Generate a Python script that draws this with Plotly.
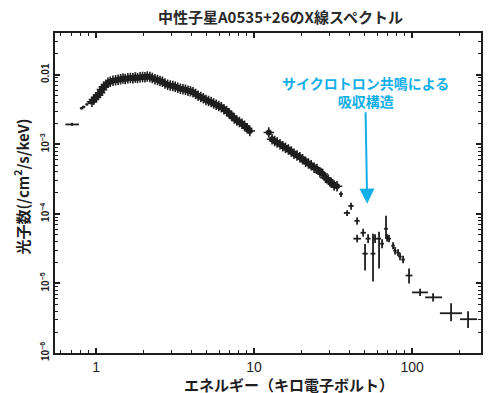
import numpy as np
import plotly.graph_objects as go

# ---- data: dense spectrum band (energy keV, photon flux /cm2/s/keV) ----
band_E = [0.943, 0.97, 1.00, 1.03, 1.06, 1.09, 1.12, 1.155, 1.19, 1.23, 1.28, 1.33, 1.38, 1.43,
          1.48, 1.53, 1.59, 1.65, 1.71, 1.77, 1.83, 1.90, 1.97, 2.04, 2.11, 2.19, 2.27, 2.36,
          2.45, 2.54, 2.63, 2.73, 2.84, 2.95, 3.06, 3.17, 3.29, 3.42, 3.55, 3.68, 3.82, 3.96,
          4.11, 4.27, 4.43, 4.60, 4.78, 4.96, 5.15, 5.35, 5.55, 5.76, 5.98, 6.21, 6.45, 6.70,
          6.95, 7.22, 7.50, 7.78, 8.08, 8.39, 8.71, 9.04, 9.40,
          12.4, 13.0, 13.5, 14.0, 14.6, 15.2, 15.8, 16.5, 17.2, 17.9, 18.7, 19.5, 20.3, 21.2,
          22.1, 23.0, 24.0, 25.0, 26.1, 27.2, 28.3, 29.5, 30.8, 32.1, 33.5]
band_F = [4.1e-3, 4.4e-3, 4.7e-3, 5.1e-3, 5.5e-3, 6.1e-3, 6.7e-3, 7.2e-3, 7.7e-3, 7.9e-3, 8.2e-3,
          8.3e-3, 8.5e-3, 8.6e-3, 8.8e-3, 8.7e-3, 8.9e-3, 9.0e-3, 8.9e-3, 9.1e-3, 9.0e-3, 9.2e-3,
          9.3e-3, 9.2e-3, 9.4e-3, 9.3e-3, 9.0e-3, 8.6e-3, 8.4e-3, 8.1e-3, 7.9e-3, 7.5e-3, 7.2e-3,
          7.0e-3, 6.9e-3, 6.7e-3, 6.5e-3, 6.3e-3, 6.2e-3, 6.1e-3, 5.9e-3, 5.8e-3, 5.6e-3, 5.3e-3,
          5.0e-3, 4.8e-3, 4.6e-3, 4.35e-3, 4.2e-3, 4.05e-3, 3.85e-3, 3.7e-3, 3.55e-3, 3.4e-3,
          3.2e-3, 3.0e-3, 2.8e-3, 2.55e-3, 2.35e-3, 2.2e-3, 2.1e-3, 1.97e-3, 1.85e-3, 1.7e-3, 1.55e-3,
          1.48e-3, 1.18e-3, 1.12e-3, 1.06e-3, 1.0e-3, 9.4e-4, 8.9e-4, 8.4e-4, 7.9e-4, 7.3e-4, 6.9e-4,
          6.5e-4, 6.1e-4, 5.6e-4, 5.3e-4, 5.0e-4, 4.6e-4, 4.4e-4, 3.95e-4, 3.75e-4, 3.3e-4, 3.1e-4,
          2.8e-4, 2.55e-4, 2.5e-4]

# ---- data: individual points with error bars ----
pt_E = [0.705, 0.81, 0.835, 0.875, 0.905, 35.5, 41.1, 38.8, 44.9, 44.9, 49.0, 50.4, 52.7, 56.6,
        58.3, 61.8, 64.6, 68.4, 69.5, 71.5, 75.8, 78.0, 81.5, 83.9, 87.7, 95.7, 112.4, 135.8,
        176.5, 226.0]
pt_E_lo = [0.64, 0.79, 0.815, 0.855, 0.89, 34.5, 39.5, 37.0, 43.2, 42.5, 47.2, 48.5, 50.8, 54.6,
           56.5, 60.0, 62.8, 66.5, 67.6, 69.6, 73.8, 76.0, 79.4, 81.8, 85.5, 91.0, 100.0, 121.0,
           150.0, 201.0]
pt_E_hi = [0.78, 0.83, 0.855, 0.895, 0.925, 36.5, 42.7, 40.5, 46.6, 47.4, 51.0, 52.4, 54.6, 58.6,
           60.2, 63.7, 66.4, 70.3, 71.5, 73.5, 77.8, 80.0, 83.6, 86.0, 90.0, 100.5, 126.0, 155.0,
           207.0, 258.0]
pt_F = [1.93e-3, 3.3e-3, 3.45e-3, 3.75e-3, 3.95e-3, 1.93e-4, 1.30e-4, 1.03e-4, 7.94e-5, 4.40e-5,
        5.35e-5, 2.68e-5, 4.40e-5, 2.68e-5, 4.40e-5, 4.40e-5, 3.73e-5, 6.11e-5, 4.54e-5, 4.40e-5,
        3.49e-5, 2.96e-5, 2.77e-5, 2.43e-5, 2.20e-5, 1.30e-5, 7.43e-6, 6.31e-6, 3.73e-6, 3.06e-6]
pt_F_lo = [1.83e-3, 3.15e-3, 3.3e-3, 3.6e-3, 3.8e-3, 1.75e-4, 1.15e-4, 0.93e-4, 7.0e-5, 3.9e-5,
           4.7e-5, 1.53e-5, 3.8e-5, 1.07e-5, 3.8e-5, 1.64e-5, 3.2e-5, 4.40e-5, 4.0e-5, 3.9e-5,
           3.1e-5, 2.6e-5, 2.45e-5, 2.15e-5, 1.95e-5, 1.0e-5, 6.6e-6, 5.5e-6, 2.86e-6, 2.28e-6]
pt_F_hi = [2.04e-3, 3.45e-3, 3.6e-3, 3.9e-3, 4.1e-3, 2.1e-4, 1.45e-4, 1.13e-4, 8.9e-5, 5.0e-5,
           6.1e-5, 3.7e-5, 5.1e-5, 5.18e-5, 5.1e-5, 5.53e-5, 4.3e-5, 9.36e-5, 5.1e-5, 5.0e-5,
           3.9e-5, 3.35e-5, 3.1e-5, 2.75e-5, 2.5e-5, 1.64e-5, 8.4e-6, 7.2e-6, 5.18e-6, 3.98e-6]

x_tickvals = [1, 10, 100]
x_ticktext = ["1", "10", "100"]
y_tickvals = [1e-6, 1e-5, 1e-4, 1e-3, 1e-2]
y_ticktext = ["10<sup>−6</sup>", "10<sup>−5</sup>", "10<sup>−4</sup>", "10<sup>−3</sup>", "0.01"]

title_text = "中性子星A0535+26のX線スペクトル"
xtitle_text = "エネルギー（キロ電子ボルト）"
ytitle_text = "光子数(/cm<sup>2</sup>/s/keV)"
note_text = "サイクロトロン共鳴による<br>吸収構造"
arrow_E = 52.0
arrow_F = 1.4e-4

INK = "#1e1e1e"
CYAN = "#12aee8"
CJK = "Noto Sans CJK JP"
LAT = "Liberation Sans"

pt_E_a = np.array(pt_E); pt_F_a = np.array(pt_F)

fig = go.Figure()
fig.add_trace(go.Scatter(
    x=band_E, y=band_F, mode="markers",
    marker=dict(symbol="circle", size=6, color=INK, line=dict(width=0)),
    hoverinfo="x+y", showlegend=False))
fig.add_trace(go.Scatter(
    x=band_E, y=band_F, mode="markers",
    marker=dict(symbol="cross-thin", size=7.5, line=dict(width=1.6, color=INK), color=INK),
    hoverinfo="skip", showlegend=False))
fig.add_trace(go.Scatter(
    x=pt_E, y=pt_F, mode="markers",
    marker=dict(size=1, color=INK),
    error_x=dict(type="data", symmetric=False,
                 array=np.array(pt_E_hi) - pt_E_a, arrayminus=pt_E_a - np.array(pt_E_lo),
                 thickness=1.8, width=0, color=INK),
    error_y=dict(type="data", symmetric=False,
                 array=np.array(pt_F_hi) - pt_F_a, arrayminus=pt_F_a - np.array(pt_F_lo),
                 thickness=1.8, width=0, color=INK),
    showlegend=False))

axis_common = dict(
    showline=True, linewidth=2, linecolor=INK, mirror="allticks",
    ticks="inside", ticklen=5, tickwidth=1.5, tickcolor=INK,
    showgrid=False, zeroline=False, automargin=False,
)
fig.update_xaxes(type="log", range=[np.log10(0.55), np.log10(273)],
                 tickvals=x_tickvals, ticktext=x_ticktext,
                 tickfont=dict(family=LAT, size=14, color=INK),
                 minor=dict(ticks="inside", ticklen=3, tickwidth=1.2, tickcolor=INK, dtick="D1"),
                 **axis_common)
fig.update_yaxes(type="log", range=[-6, -1.4],
                 tickvals=y_tickvals, ticktext=y_ticktext, tickangle=-90,
                 tickfont=dict(family=LAT, size=10, color=INK, weight="bold"),
                 minor=dict(ticks="inside", ticklen=3, tickwidth=1.2, tickcolor=INK, dtick="D1"),
                 **axis_common)

fig.update_layout(
    width=489, height=393,
    margin=dict(l=55, r=8, t=33, b=40),
    paper_bgcolor="white", plot_bgcolor="white",
    annotations=[
        dict(text=title_text, xref="paper", yref="paper", x=0.53, y=1, yshift=17,
             showarrow=False, yanchor="middle", xanchor="center",
             font=dict(family=CJK, size=15, color="#2a2a2a", weight="bold")),
        dict(text=xtitle_text, xref="paper", yref="paper", x=0.55, y=0, yshift=-31,
             showarrow=False, yanchor="middle", xanchor="center",
             font=dict(family=CJK, size=15, color=INK, weight="bold")),
        dict(text=ytitle_text, xref="paper", yref="paper", x=0, xshift=-34, y=0.52,
             showarrow=False, textangle=-90, xanchor="center", yanchor="middle",
             font=dict(family=CJK, size=15, color=INK, weight="bold")),
        dict(text=note_text, x=np.log10(arrow_E), y=np.log10(arrow_F), xref="x", yref="y",
             showarrow=True, ax=-2, ay=-112, arrowhead=2, arrowsize=1.5, arrowwidth=2,
             arrowcolor=CYAN, standoff=0,
             font=dict(family=CJK, size=14, color=CYAN, weight="bold")),
    ],
)
fig.write_html("out.html", config={"displayModeBar": False},
               post_script="document.body.style.margin='0px';document.body.style.overflow='hidden';")
